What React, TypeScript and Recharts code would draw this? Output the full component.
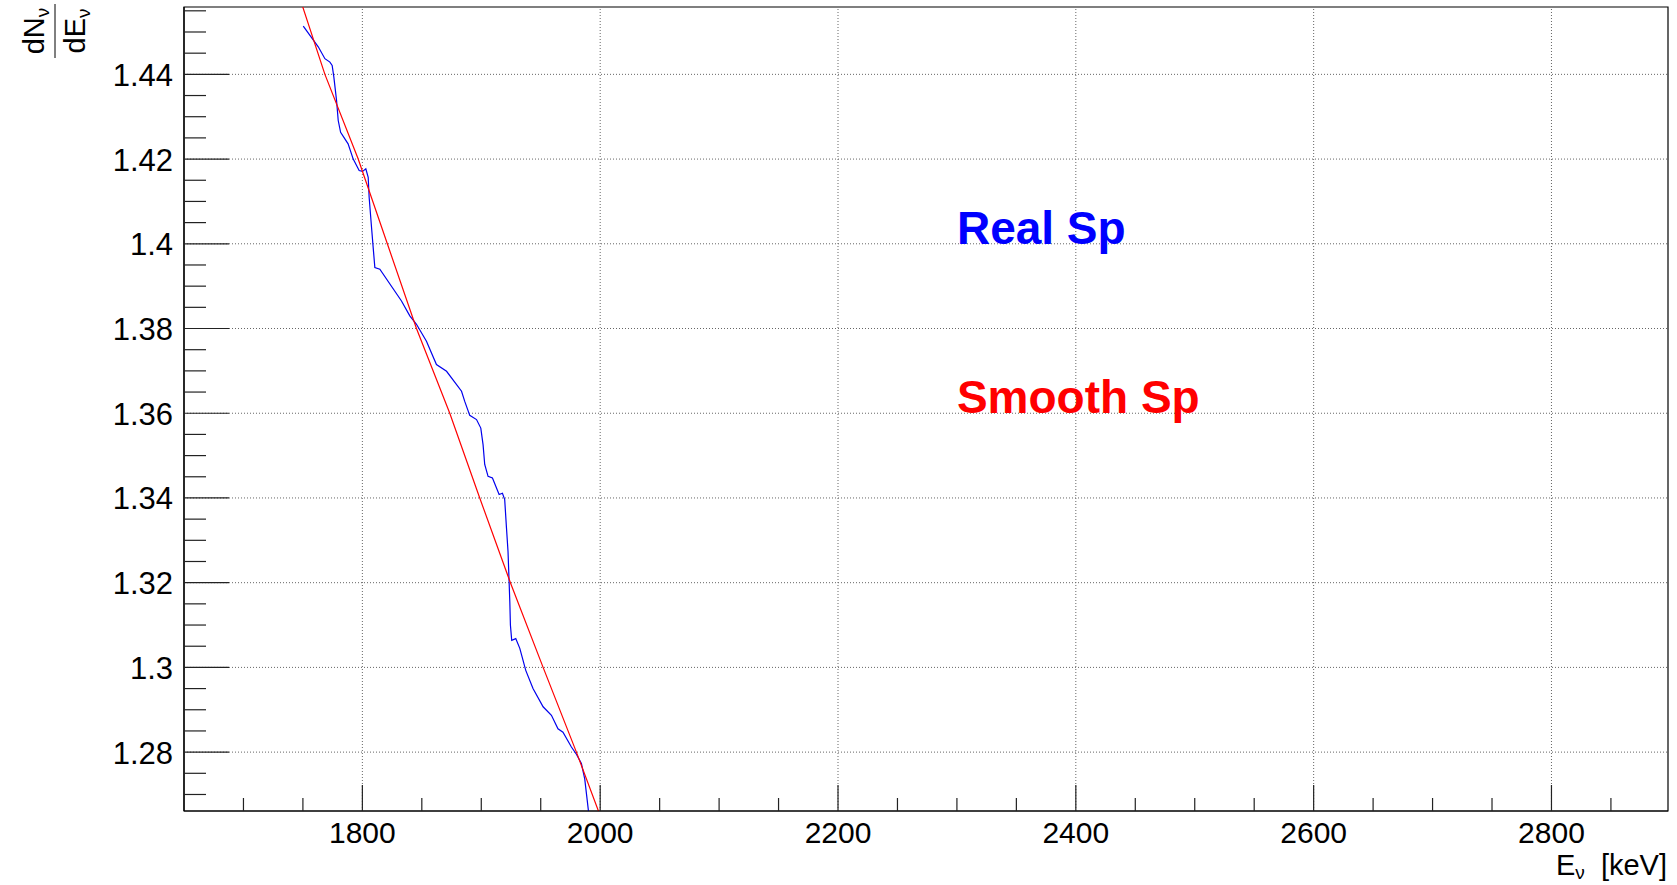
import { LineChart, Line, XAxis, YAxis, ReferenceLine, ReferenceArea, ReferenceDot, Label } from 'recharts';

// energy axis (keV) and spectrum values
const realE = [
  1750.3, 1762.9, 1768.5, 1772.7, 1774.6, 1776.0, 1778.3, 1779.7, 1781.7, 1788.0,
  1792.3, 1797.3, 1800.2, 1802.9, 1804.9, 1805.7, 1807.7, 1809.1, 1810.5, 1814.7,
  1832.9, 1839.9, 1845.5, 1853.9, 1862.3, 1870.8, 1883.4, 1886.1, 1890.3, 1896.0,
  1899.6, 1901.5, 1902.9, 1905.7, 1909.4, 1915.0, 1917.8, 1919.7, 1921.2, 1922.5,
  1923.4, 1924.0, 1924.5, 1925.6, 1929.0, 1932.4, 1937.4, 1943.5, 1952.0, 1959.0,
  1964.5, 1968.7, 1975.8, 1980.0, 1984.2, 1987.0, 1990.3, 1990.6,
];
const realY = [
  1.4514, 1.4465, 1.4437, 1.4429, 1.4421, 1.4394, 1.4338, 1.4291, 1.4263, 1.4236,
  1.42, 1.4173, 1.4171, 1.4177, 1.4157, 1.411, 1.4039, 1.3991, 1.3944, 1.394,
  1.3865, 1.383, 1.381, 1.377, 1.3715, 1.3699, 1.3652, 1.3628, 1.3595, 1.3585,
  1.3565, 1.3526, 1.3479, 1.3451, 1.3447, 1.3408, 1.3411, 1.3396, 1.3329, 1.3273,
  1.3202, 1.3155, 1.31, 1.3064, 1.3068, 1.3045, 1.2993, 1.295, 1.2907, 1.2887,
  1.2855, 1.2847, 1.2812, 1.2795, 1.2773, 1.2737, 1.2657, 1.2645,
];

const smoothE = [1748, 1768.5, 1796.5, 1821, 1845.5, 1873.5, 1898.7, 1924.5, 1952, 1980, 2000];
const smoothY = [1.4575, 1.44, 1.42, 1.4, 1.38, 1.36, 1.34, 1.32, 1.3, 1.28, 1.265];

// axis ticks
const xMajor = [1800, 2000, 2200, 2400, 2600, 2800];
const xTicks = [
  1700, 1750, 1800, 1850, 1900, 1950, 2000, 2050, 2100, 2150, 2200, 2250,
  2300, 2350, 2400, 2450, 2500, 2550, 2600, 2650, 2700, 2750, 2800, 2850,
];
const yMajor = [1.28, 1.3, 1.32, 1.34, 1.36, 1.38, 1.4, 1.42, 1.44];
const yTicks = [
  1.27, 1.275, 1.28, 1.285, 1.29, 1.295, 1.3, 1.305, 1.31, 1.315,
  1.32, 1.325, 1.33, 1.335, 1.34, 1.345, 1.35, 1.355, 1.36, 1.365,
  1.37, 1.375, 1.38, 1.385, 1.39, 1.395, 1.4, 1.405, 1.41, 1.415,
  1.42, 1.425, 1.43, 1.435, 1.44, 1.445, 1.45, 1.455,
];

const X_MIN = 1650;
const X_MAX = 2898;
const Y_MIN = 1.2661;
const Y_MAX = 1.4559;

const realData = realE.map((x, i) => ({ x, y: realY[i] }));
const smoothData = smoothE.map((x, i) => ({ x, y: smoothY[i] }));

const FONT = '"Liberation Sans", Arial, Helvetica, sans-serif';
const Y_TICK_MARGIN = 11;

function YTick(props: any) {
  const { x, y, payload } = props;
  const v = payload.value;
  const major = yMajor.includes(v);
  const ax = x + Y_TICK_MARGIN;
  return (
    <g>
      <line x1={ax} x2={ax + (major ? 45 : 22)} y1={y} y2={y} stroke="#222" strokeWidth={1.2} />
      {major && (
        <text x={x} y={y} dy="0.37em" textAnchor="end" fontSize={31} fontFamily={FONT} fill="#000">
          {String(v)}
        </text>
      )}
    </g>
  );
}

function XTick(props: any) {
  const { x, y, payload } = props;
  const v = payload.value;
  const major = xMajor.includes(v);
  return (
    <g>
      <line x1={x} x2={x} y1={y} y2={y - (major ? 26 : 13)} stroke="#222" strokeWidth={1.2} />
      {major && (
        <text x={x} y={y + 32} textAnchor="middle" fontSize={30} fontFamily={FONT} fill="#000">
          {String(v)}
        </text>
      )}
    </g>
  );
}

function XTitle({ viewBox }: any) {
  const right = viewBox.x + viewBox.width - 1;
  return (
    <text x={right} y={viewBox.y + 64} textAnchor="end" fontSize={29} fontFamily={FONT} fill="#000">
      E<tspan fontSize={19} dy={4}>ν</tspan>
      <tspan dy={-4}>{'\u00a0\u00a0[keV]'}</tspan>
    </text>
  );
}

function YTitle({ viewBox }: any) {
  const cx = viewBox.x + 55;
  const cy = viewBox.y + 24;
  return (
    <g transform={`translate(${cx}, ${cy}) rotate(-90)`} fontFamily={FONT} fill="#000">
      <line x1={-27} x2={27} y1={0} y2={0} stroke="#000" strokeWidth={1} />
      <text x={0} y={-11} textAnchor="middle" fontSize={29}>
        dN<tspan fontSize={19} dy={5}>ν</tspan>
      </text>
      <text x={0} y={30} textAnchor="middle" fontSize={29}>
        dE<tspan fontSize={19} dy={5}>ν</tspan>
      </text>
    </g>
  );
}

function Note({ viewBox, text, color }: any) {
  return (
    <text x={viewBox.x} y={viewBox.y} fontSize={46} fontWeight="bold" fontFamily={FONT} fill={color}>
      {text}
    </text>
  );
}

export default function App() {
  return (
    <div style={{ position: 'absolute', left: 0, top: 0, background: '#fff' }}>
      <LineChart width={1677} height={885} margin={{ top: 7, right: 9, left: 0, bottom: 0 }}>
        <XAxis
          dataKey="x"
          type="number"
          domain={[X_MIN, X_MAX]}
          allowDataOverflow
          ticks={xTicks}
          interval={0}
          tick={<XTick />}
          tickLine={false}
          tickSize={0}
          tickMargin={0}
          axisLine={{ stroke: '#000', strokeWidth: 1.2 }}
          height={74}
        >
          <Label content={<XTitle />} />
        </XAxis>
        <YAxis
          dataKey="y"
          type="number"
          domain={[Y_MIN, Y_MAX]}
          allowDataOverflow
          ticks={yTicks}
          interval={0}
          tick={<YTick />}
          tickLine={false}
          tickSize={0}
          tickMargin={Y_TICK_MARGIN}
          axisLine={{ stroke: '#000', strokeWidth: 1.2 }}
          width={184}
        >
          <Label content={<YTitle />} />
        </YAxis>

        {xMajor.map(v => (
          <ReferenceLine key={`gx${v}`} x={v} stroke="#666" strokeDasharray="1 2" />
        ))}
        {yMajor.map(v => (
          <ReferenceLine key={`gy${v}`} y={v} stroke="#666" strokeDasharray="1 2" />
        ))}
        <ReferenceArea x1={X_MIN} x2={X_MAX} y1={Y_MIN} y2={Y_MAX} fill="none" stroke="#000" strokeWidth={1.2} />

        <ReferenceDot x={2300} y={1.4} r={0} stroke="none" fill="none">
          <Label content={<Note text="Real Sp" color="#0000ff" />} />
        </ReferenceDot>
        <ReferenceDot x={2300} y={1.36} r={0} stroke="none" fill="none">
          <Label content={<Note text="Smooth Sp" color="#ff0000" />} />
        </ReferenceDot>

        <Line
          data={realData}
          dataKey="y"
          type="linear"
          stroke="#0000ee"
          strokeWidth={1.2}
          dot={false}
          activeDot={false}
          isAnimationActive={false}
        />
        <Line
          data={smoothData}
          dataKey="y"
          type="linear"
          stroke="#ff0000"
          strokeWidth={1.2}
          dot={false}
          activeDot={false}
          isAnimationActive={false}
        />
      </LineChart>
    </div>
  );
}
